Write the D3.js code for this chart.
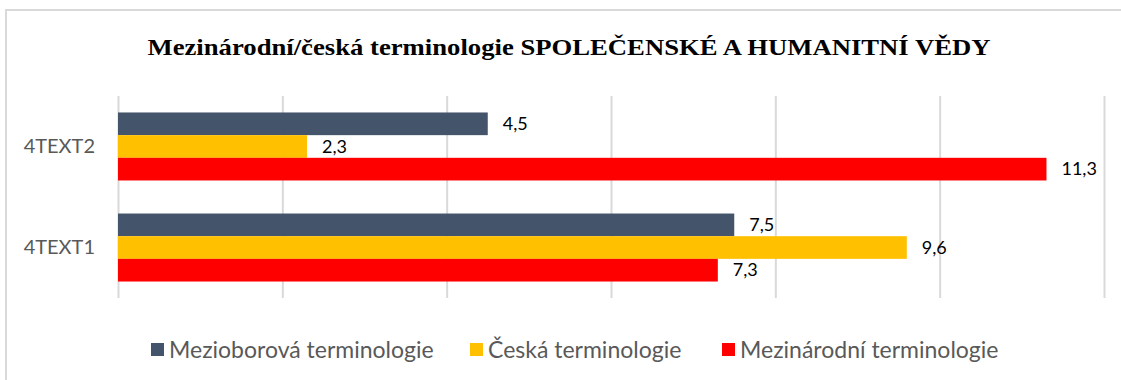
<!DOCTYPE html>
<html>
<head>
<meta charset="utf-8">
<script src="https://cdn.jsdelivr.net/npm/d3@7"></script>
<style>
  html, body { margin: 0; padding: 0; background: #fff; }
  svg { display: block; }
</style>
</head>
<body>
<svg id="chart" width="1121" height="380"></svg>
<script>
// Categories (top to bottom) and the three series
const categories = ["4TEXT2", "4TEXT1"];
const seriesNames = ["Mezioborová terminologie", "Česká terminologie", "Mezinárodní terminologie"];
const seriesColors = ["#44546A", "#FFC000", "#FF0000"];
const mezioborova = [4.5, 7.5];
const ceska = [2.3, 9.6];
const mezinarodni = [11.3, 7.3];
const xTicks = [0, 2, 4, 6, 8, 10, 12];
const titleText = "Mezinárodní/česká terminologie SPOLEČENSKÉ A HUMANITNÍ VĚDY";

const seriesValues = [mezioborova, ceska, mezinarodni];
const rows = categories.map((c, i) => ({
  category: c,
  values: seriesNames.map((s, j) => ({ series: s, value: seriesValues[j][i], color: seriesColors[j] }))
}));

const svg = d3.select("#chart");
const fmt = v => d3.format(".1f")(v).replace(".", ",");
const sans = "Lato, 'Open Sans', sans-serif";

// Outer chart frame
svg.append("rect")
  .attr("x", 6).attr("y", 10)
  .attr("width", 1130).attr("height", 390)
  .attr("fill", "#fff")
  .attr("stroke", "#d9d9d9").attr("stroke-width", 2);

// Title
svg.append("text")
  .attr("x", 569).attr("y", 55)
  .attr("text-anchor", "middle")
  .attr("font-family", "'Liberation Serif', 'Times New Roman', serif")
  .attr("font-weight", "bold")
  .attr("font-size", 24)
  .attr("textLength", 843)
  .attr("lengthAdjust", "spacingAndGlyphs")
  .attr("fill", "#000")
  .text(titleText);

const plotTop = 96, plotBottom = 298;
const x = d3.scaleLinear().domain([0, 12]).range([118, 1104]);
const y = d3.scaleBand().domain(categories).range([plotTop, plotBottom])
  .paddingInner(0.327).paddingOuter(0.163);
const ySeries = d3.scaleBand().domain(seriesNames).range([0, y.bandwidth()]);

// Vertical gridlines
const grid = svg.append("g")
  .attr("transform", `translate(0,${plotBottom})`)
  .call(d3.axisBottom(x).tickValues(xTicks).tickSize(-(plotBottom - plotTop)).tickFormat(""));
grid.select(".domain").remove();
grid.selectAll(".tick line").attr("stroke", "#d9d9d9").attr("stroke-width", 2);

// Category axis
const yAxis = svg.append("g")
  .attr("transform", `translate(${x(0)},0)`)
  .call(d3.axisLeft(y).tickSize(0).tickPadding(23));
yAxis.select(".domain").remove();
yAxis.selectAll("text")
  .attr("font-family", sans)
  .attr("font-size", 20)
  .attr("fill", "#595959");

// Bars
const groups = svg.append("g").selectAll("g")
  .data(rows).join("g")
  .attr("transform", d => `translate(0,${y(d.category)})`);

groups.selectAll("rect")
  .data(d => d.values).join("rect")
  .attr("x", x(0))
  .attr("y", d => ySeries(d.series))
  .attr("width", d => x(d.value) - x(0))
  .attr("height", ySeries.bandwidth())
  .attr("fill", d => d.color);

// Value labels
groups.selectAll("text.val")
  .data(d => d.values).join("text")
  .attr("class", "val")
  .attr("x", d => x(d.value) + 15)
  .attr("y", d => ySeries(d.series) + ySeries.bandwidth() / 2)
  .attr("dy", "0.35em")
  .attr("font-family", sans)
  .attr("font-size", 18)
  .attr("fill", "#000")
  .text(d => fmt(d.value));

// Legend
const legendX = [151, 470, 722];
const legend = svg.append("g").selectAll("g")
  .data(seriesNames).join("g")
  .attr("transform", (d, i) => `translate(${legendX[i]},350)`);
legend.append("rect")
  .attr("x", 0).attr("y", -7)
  .attr("width", 13).attr("height", 13)
  .attr("fill", (d, i) => seriesColors[i]);
legend.append("text")
  .attr("x", 18).attr("y", 0)
  .attr("dy", "0.35em")
  .attr("font-family", sans)
  .attr("font-size", 23)
  .attr("fill", "#595959")
  .text(d => d);
</script>
</body>
</html>
